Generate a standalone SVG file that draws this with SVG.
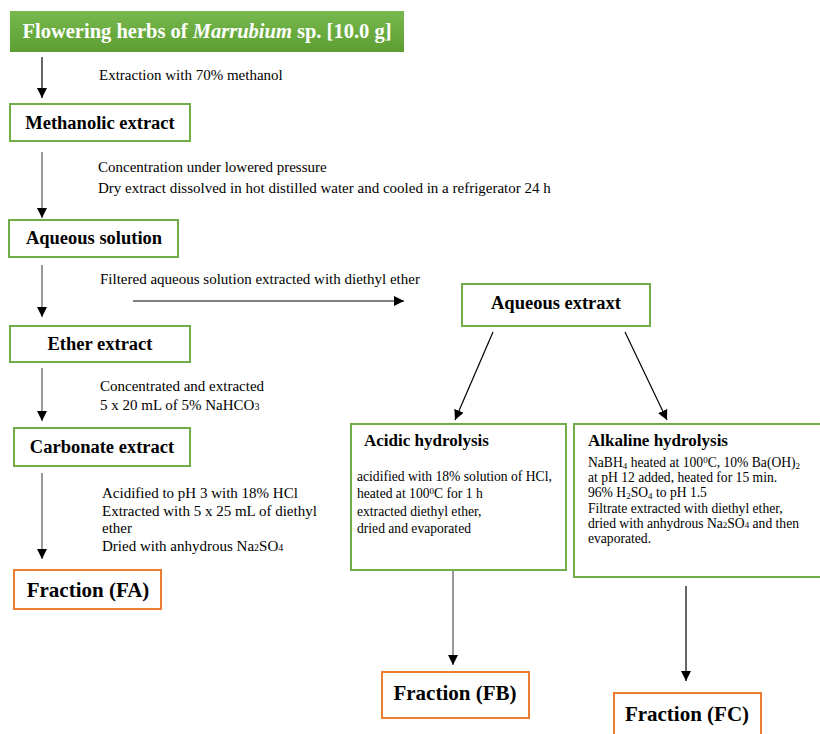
<svg xmlns="http://www.w3.org/2000/svg" width="820" height="734" viewBox="0 0 820 734" font-family="'Liberation Serif', 'Times New Roman', serif">
<defs>
<linearGradient id="g" x1="0" y1="0" x2="0" y2="1">
<stop offset="0" stop-color="#78b94f"/>
<stop offset="1" stop-color="#5c9e31"/>
</linearGradient>
<marker id="ah" markerWidth="10" markerHeight="10" viewBox="0 0 10 10" refX="10" refY="5" orient="auto" markerUnits="userSpaceOnUse">
<path d="M0,0 L10,5 L0,10 z" fill="#000"/>
</marker>
<style>
text{font-family:"Liberation Serif","Times New Roman",serif;fill:#000}
.box{fill:#fff;stroke:#70ad47;stroke-width:2}
.obox{fill:#fff;stroke:#ed7d31;stroke-width:2}
.t{font-weight:bold;font-size:18.5px;text-anchor:middle}
.f{font-weight:bold;font-size:21px;text-anchor:middle}
.n{font-size:15px}
.s{font-size:13.6px}
.ht{font-weight:bold;font-size:17px}
.c{stroke:#000;stroke-width:1.2;fill:none;marker-end:url(#ah)}
.cg{stroke:#555;stroke-width:1.2;fill:none;marker-end:url(#ah)}
</style>
</defs>
<rect width="820" height="734" fill="#fff"/>
<g id="n-herbs">
<rect x="10" y="11" width="394" height="41" fill="url(#g)"/>
<text x="207" y="38" font-size="20.5" font-weight="bold" text-anchor="middle" style="fill:#fff">Flowering herbs of <tspan font-style="italic">Marrubium</tspan> sp. [10.0 g]</text>
</g>
<g id="n-methanolic">
<rect class="box" x="10" y="104" width="180" height="37"/>
<text class="t" x="100" y="129">Methanolic extract</text>
</g>
<g id="n-aqsol">
<rect class="box" x="9" y="220" width="169" height="37"/>
<text class="t" x="94" y="244">Aqueous solution</text>
</g>
<g id="n-ether">
<rect class="box" x="10" y="326" width="180" height="36"/>
<text class="t" x="100" y="350">Ether extract</text>
</g>
<g id="n-carbonate">
<rect class="box" x="14" y="428" width="176" height="38"/>
<text class="t" x="102" y="453">Carbonate extract</text>
</g>
<g id="n-fa">
<rect class="obox" x="14" y="570" width="147" height="39"/>
<text class="f" x="88" y="597">Fraction (FA)</text>
</g>
<g id="n-aqext">
<rect class="box" x="462" y="284" width="188" height="42"/>
<text class="t" x="556" y="309">Aqueous extraxt</text>
</g>
<g id="n-acidic">
<rect class="box" x="351" y="424" width="215" height="146"/>
<text class="ht" x="364" y="446">Acidic hydrolysis</text>
<text class="s" x="357" y="481">acidified with 18% solution of HCl,</text>
<text class="s" x="357" y="498">heated at 100<tspan baseline-shift="4" font-size="9">0</tspan>C for 1 h</text>
<text class="s" x="357" y="516">extracted diethyl ether,</text>
<text class="s" x="357" y="533">dried and evaporated</text>
</g>
<g id="n-alkaline">
<rect class="box" x="574" y="424" width="260" height="153"/>
<text class="ht" x="588" y="446">Alkaline hydrolysis</text>
<text class="s" x="588" y="467">NaBH<tspan baseline-shift="-2" font-size="9">4</tspan> heated at 100<tspan baseline-shift="4" font-size="9">0</tspan>C, 10% Ba(OH)<tspan baseline-shift="-2" font-size="9">2</tspan></text>
<text class="s" x="588" y="482">at pH 12 added, heated for 15 min.</text>
<text class="s" x="588" y="497">96% H<tspan baseline-shift="-2" font-size="9">2</tspan>SO<tspan baseline-shift="-2" font-size="9">4</tspan> to pH 1.5</text>
<text class="s" x="588" y="513">Filtrate extracted with diethyl ether,</text>
<text class="s" x="588" y="528">dried with anhydrous Na<tspan font-size="9">2</tspan>SO<tspan font-size="9">4</tspan> and then</text>
<text class="s" x="588" y="543">evaporated.</text>
</g>
<g id="n-fb">
<rect class="obox" x="382" y="672" width="147" height="46"/>
<text class="f" x="455" y="700">Fraction (FB)</text>
</g>
<g id="n-fc">
<rect class="obox" x="614" y="693" width="147" height="50"/>
<text class="f" x="687" y="721">Fraction (FC)</text>
</g>
<g id="labels">
<text class="n" x="99" y="80">Extraction with 70% methanol</text>
<text class="n" x="98" y="172">Concentration under lowered pressure</text>
<text class="n" x="98" y="193">Dry extract dissolved in hot distilled water and cooled in a refrigerator 24 h</text>
<text class="n" x="100" y="284">Filtered aqueous solution extracted with diethyl ether</text>
<text class="n" x="100" y="391">Concentrated and extracted</text>
<text class="n" x="100" y="410">5 x 20 mL of 5% NaHCO<tspan font-size="10">3</tspan></text>
<text class="n" x="102" y="498">Acidified to pH 3 with 18% HCl</text>
<text class="n" x="102" y="516">Extracted with 5 x 25 mL of diethyl</text>
<text class="n" x="102" y="533">ether</text>
<text class="n" x="102" y="551">Dried with anhydrous Na<tspan font-size="10">2</tspan>SO<tspan font-size="10">4</tspan></text>
</g>
<g id="connectors">
<line class="c" x1="42" y1="57" x2="42" y2="98"/>
<line class="cg" x1="42" y1="152" x2="42" y2="218"/>
<line class="cg" x1="42" y1="265" x2="42" y2="317"/>
<line class="c" x1="133" y1="301" x2="404" y2="301"/>
<line class="cg" x1="42" y1="368" x2="42" y2="421"/>
<line class="cg" x1="42" y1="473" x2="42" y2="559"/>
<line class="c" x1="493" y1="332" x2="455" y2="420"/>
<line class="c" x1="625" y1="332" x2="667" y2="420"/>
<line class="cg" x1="453" y1="571" x2="453" y2="665"/>
<line class="c" x1="686" y1="586" x2="686" y2="681"/>
</g>
</svg>
